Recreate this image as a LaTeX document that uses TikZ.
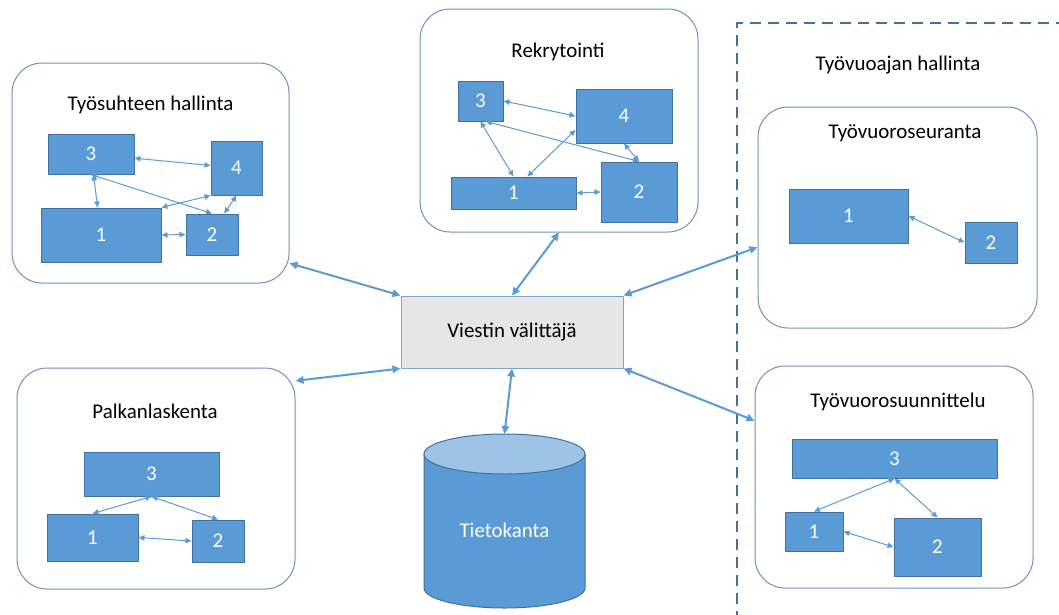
\documentclass[tikz,border=0pt]{standalone}
\usepackage{fontspec}
\setmainfont{Carlito}
\usetikzlibrary{fit,arrows.meta}
\definecolor{blkfill}{HTML}{5B9BD5}
\definecolor{blkline}{HTML}{41719C}
\definecolor{grpline}{HTML}{6F90BE}
\definecolor{msgfill}{HTML}{E7E6E6}
\definecolor{msgline}{HTML}{7FA3CF}
\definecolor{dbtop}{HTML}{9DC3E6}
\definecolor{lnkcol}{HTML}{5B9BD5}
\begin{document}
\begin{tikzpicture}[x=0.75pt,y=-0.75pt,
  big/.style={font=\fontsize{15.7}{19}\selectfont},
  num/.style={big,text=white,inner sep=0pt},
  blk/.style={draw=blkline,fill=blkfill,line width=0.75pt,inner sep=0pt},
  grp/.style={draw=grpline,rounded corners=22.5pt,line width=0.75pt,inner sep=0pt},
  msg/.style={draw=msgline,fill=msgfill,line width=0.75pt,inner sep=0pt},
  ttl/.style={big,inner sep=1pt},
  lnk/.style={draw=lnkcol,line width=0.75pt,{Triangle[length=4.5pt,width=4pt]}-{Triangle[length=4.5pt,width=4pt]}},
  mainlnk/.style={draw=lnkcol,line width=1.5pt,{Triangle[length=6pt,width=5.5pt]}-{Triangle[length=6pt,width=5.5pt]}},
  zone/.style={draw=blkline,line width=2.2pt,dash pattern=on 8pt off 5.5pt}]
\useasboundingbox (0,0) rectangle (1059,614);

% dashed zone of the working-time group
\draw[zone] (737,640) -- (737,23) -- (1080,23);
\node[ttl] (zoneT) at (898,65) {Työvuoajan hallinta};

% group frames
\node[grp,fit={(12,63)(289,283)}] (G1) {};
\node[grp,fit={(420,9)(698,232)}] (G2) {};
\node[grp,fit={(758,107)(1037,328)}] (G3) {};
\node[grp,fit={(755,366)(1033,588)}] (G4) {};
\node[grp,fit={(17,368)(295,589)}] (G5) {};

\node[ttl] (G1t) at (150.5,105) {Työsuhteen hallinta};
\node[ttl] (G2t) at (558,52) {Rekrytointi};
\node[ttl] (G3t) at (905,133) {Työvuoroseuranta};
\node[ttl] (G4t) at (898,402) {Työvuorosuunnittelu};
\node[ttl] (G5t) at (155,411) {Palkanlaskenta};

% Työsuhteen hallinta
\node[blk,fit={(48,134)(134,174)},label={[num]center:3}] (A3) {};
\node[blk,fit={(211,141)(262,195)},label={[num]center:4}] (A4) {};
\node[blk,fit={(41,208)(161,262)},label={[num]center:1}] (A1) {};
\node[blk,fit={(186,214)(238,255)},label={[num]center:2}] (A2) {};
\draw[lnk] (A3) -- (A4);
\draw[lnk] (A3) -- (A1);
\draw[lnk] (A3.south) -- (A2.north);
\draw[lnk] (A1.north east) -- (A4.south west);
\draw[lnk] (A1.east) -- (A2.west);
\draw[lnk] (A2.60) -- (A4.south);

% Rekrytointi
\node[blk,fit={(458,81)(503,121)},label={[num]center:3}] (B3) {};
\node[blk,fit={(576,89)(672,143)},label={[num]center:4}] (B4) {};
\node[blk,fit={(451,177)(576,209)},label={[num]center:1}] (B1) {};
\node[blk,fit={(601,162)(677,222)},label={[num]center:2}] (B2) {};
\draw[lnk] (B3.east) -- (B4.west);
\draw[lnk] (B3.south) -- (B1.north);
\draw[lnk] (B3.-75) -- (B2.north);
\draw[lnk] (B4.south) -- (B2.north);
\draw[lnk] (B1.50) -- (B4.196);
\draw[lnk] (B1.east) -- (B2.west);

% Työvuoroseuranta
\node[blk,fit={(789,189)(908,243)},label={[num]center:1}] (C1) {};
\node[blk,fit={(965,222)(1017,263)},label={[num]center:2}] (C2) {};
\draw[lnk] (C1.east) -- (C2.west);

% Työvuorosuunnittelu
\node[blk,fit={(792,439)(997,478)},label={[num]center:3}] (D3) {};
\node[blk,fit={(785,512)(843,551)},label={[num]center:1}] (D1) {};
\node[blk,fit={(894,518)(981,576)},label={[num]center:2}] (D2) {};
\draw[lnk] (D3.south) -- (D1.north);
\draw[lnk] (D3.south) -- (D2.north);
\draw[lnk] (D1.east) -- (D2.west);

% Palkanlaskenta
\node[blk,fit={(84,452)(219,496)},label={[num]center:3}] (E3) {};
\node[blk,fit={(47,514)(138,561)},label={[num]center:1}] (E1) {};
\node[blk,fit={(192,520)(244,562)},label={[num]center:2}] (E2) {};
\draw[lnk] (E3.south) -- (E1.north);
\draw[lnk] (E3.south) -- (E2.north);
\draw[lnk] (E1.east) -- (E2.west);

% message broker
\node[msg,fit={(401,296)(623,368)},label={[big,inner sep=0pt]center:Viestin välittäjä}] (V) {};

% database cylinder
\path[fill=blkfill,draw=blkline,line width=0.75pt]
  (424,454) -- (424,588) arc[start angle=180,end angle=0,x radius=80.5,y radius=20]
  -- (585,454) -- cycle;
\path[fill=dbtop,draw=blkline,line width=0.75pt] (504.5,454) ellipse[x radius=80.5,y radius=20];
\node[num] (DBt) at (504.5,530) {Tietokanta};
\coordinate (DB) at (504.5,434);

% connections to the broker
\draw[mainlnk] (G1.-33) -- (V.north west);
\draw[mainlnk] (G2.south) -- (V.north);
\draw[mainlnk] (G3.192) -- (V.north east);
\draw[mainlnk] (G5.35) -- (V.south west);
\draw[mainlnk] (G4.158) -- (V.south east);
\draw[mainlnk] (V.south) -- (DB);
\end{tikzpicture}
\end{document}
